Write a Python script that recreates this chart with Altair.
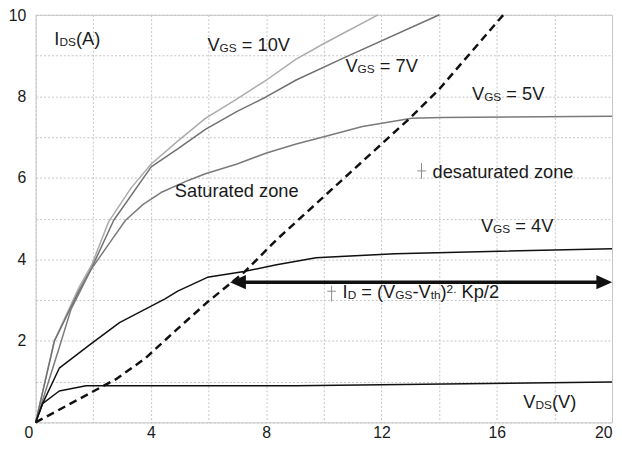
import altair as alt
import pandas as pd

# ---------------- data ----------------
vgs10_x = [0, 0.65, 1.51, 1.95, 2.53, 3.32, 4.01, 4.93, 5.89, 6.99, 8.01, 9.04, 10.07, 11.88]
vgs10_y = [0, 2.01, 3.32, 3.87, 4.92, 5.76, 6.34, 6.90, 7.46, 7.94, 8.40, 8.91, 9.32, 10.0]

vgs7_x = [0, 0.65, 1.51, 1.95, 2.71, 4.01, 4.93, 5.89, 6.99, 8.01, 9.04, 10.75, 14.01]
vgs7_y = [0, 1.99, 3.24, 3.80, 4.96, 6.27, 6.71, 7.19, 7.63, 7.99, 8.40, 8.96, 10.0]

vgs5_x = [0, 0.82, 1.23, 1.92, 2.64, 3.12, 3.73, 4.35, 5.27, 5.89, 6.99, 8.01, 9.04, 10.07, 11.34, 13.05, 14.08, 20.0]
vgs5_y = [0, 1.84, 2.78, 3.75, 4.48, 4.96, 5.35, 5.64, 5.93, 6.10, 6.34, 6.61, 6.83, 7.02, 7.26, 7.46, 7.48, 7.51]

vgs4_x = [0, 0.24, 0.82, 1.85, 2.91, 4.49, 4.93, 5.96, 7.23, 8.36, 9.73, 12.47, 20.0]
vgs4_y = [0, 0.46, 1.33, 1.89, 2.45, 3.03, 3.22, 3.56, 3.70, 3.87, 4.04, 4.14, 4.26]

vgs_low_x = [0, 0.24, 0.82, 1.75, 3.80, 9.04, 14.18, 20.0]
vgs_low_y = [0, 0.46, 0.77, 0.90, 0.90, 0.90, 0.94, 0.99]

limit_x = [0, 2.81, 3.80, 4.93, 5.96, 7.23, 8.36, 9.04, 12.98, 14.01, 16.23]
limit_y = [0, 1.07, 1.57, 2.30, 2.95, 3.68, 4.48, 4.92, 7.46, 8.18, 10.0]

arrow_x = [7.02, 19.73]
arrow_y = 3.44

x_ticks = list(range(0, 21, 2))
y_ticks = list(range(0, 11))

# annotation anchors (x, y) and text pieces: (text, kind)
labels = [
    (0.65, 9.25, [("I", "n"), ("DS", "sub"), ("(A)", "n")]),
    (5.96, 9.10, [("V", "n"), ("GS", "sub"), (" = 10V", "n")]),
    (10.75, 8.60, [("V", "n"), ("GS", "sub"), (" = 7V", "n")]),
    (15.14, 7.92, [("V", "n"), ("GS", "sub"), (" = 5V", "n")]),
    (4.83, 5.54, [("Saturated zone", "n")]),
    (13.77, 6.00, [("desaturated zone", "n")]),
    (15.45, 4.67, [("V", "n"), ("GS", "sub"), (" = 4V", "n")]),
    (10.65, 3.05, [("I", "n"), ("D", "sub"), (" = (V", "n"), ("GS", "sub"), ("-V", "n"),
                   ("th", "sub"), (")", "n"), ("2.", "sup"), (" Kp/2", "n")]),
    (16.92, 0.36, [("V", "n"), ("DS", "sub"), ("(V)", "n")]),
]
cross_x = [13.39, 10.27]
cross_y = [6.17, 3.16]

# ---------------- styling ----------------
FONT = "Liberation Sans"
MAIN, SUB = 18.5, 12
INK = "#1a1a1a"

ARIAL_W = {' ': 278, '(': 333, ')': 333, '-': 333, '.': 278, '/': 278, '=': 584,
           'A': 667, 'D': 722, 'G': 778, 'I': 278, 'K': 667, 'S': 667, 'V': 667,
           'a': 556, 'd': 556, 'e': 556, 'h': 556, 'n': 556, 'o': 556, 'p': 556,
           'r': 333, 's': 500, 't': 278, 'u': 556, 'z': 500}


def text_width(s, size):
    return sum(ARIAL_W.get(c, 556) for c in s) * size / 1000.0


X_SCALE = alt.Scale(domain=[0, 20], nice=False, zero=False)
Y_SCALE = alt.Scale(domain=[0, 10], nice=False, zero=False)

AXIS_X = alt.Axis(
    values=x_ticks,
    labelExpr="datum.value % 4 == 0 ? datum.label : ''",
    title=None, grid=True, domain=False, ticks=False, tickSize=0,
    labelPadding=2, labelFontSize=16, labelFont=FONT, labelColor=INK,
    labelAlign={"condition": {"test": "datum.value == 0 || datum.value == 20", "value": "right"},
                "value": "center"},
    labelOffset={"condition": {"test": "datum.value == 0", "value": -3}, "value": 0},
    labelOverlap=False,
    gridColor="#c4c4c4", gridDash=[2, 2], gridWidth=1,
)
AXIS_Y = alt.Axis(
    values=y_ticks,
    labelExpr="datum.value % 2 == 0 && datum.value > 0 ? datum.label : ''",
    title=None, grid=True, domain=False, ticks=False, tickSize=0,
    labelPadding=10, labelFontSize=16, labelFont=FONT, labelColor=INK,
    labelOffset={"condition": {"test": "datum.value == 10", "value": 1}, "value": 0},
    labelOverlap=False,
    gridColor="#c4c4c4", gridDash=[2, 2], gridWidth=1,
)


def X():
    return alt.X("x:Q", scale=X_SCALE, axis=AXIS_X)


def Y():
    return alt.Y("y:Q", scale=Y_SCALE, axis=AXIS_Y)


def line(xs, ys, color, width, dash=None):
    df = pd.DataFrame({"x": xs, "y": ys})
    kw = dict(color=color, strokeWidth=width, strokeJoin="round")
    if dash:
        kw["strokeDash"] = dash
    return alt.Chart(df).mark_line(**kw).encode(x=X(), y=Y())


layers = [
    line(vgs10_x, vgs10_y, "#ababab", 1.5),
    line(vgs7_x, vgs7_y, "#707070", 1.5),
    line(vgs5_x, vgs5_y, "#7a7a7a", 1.5),
    line(vgs4_x, vgs4_y, "#111111", 1.5),
    line(vgs_low_x, vgs_low_y, "#111111", 1.5),
    line(limit_x, limit_y, "#111111", 2.5, dash=[8, 5]),
]

# double headed arrow
arrow_df = pd.DataFrame({"x": [arrow_x[0]], "x2": [arrow_x[1]], "y": [arrow_y]})
layers.append(alt.Chart(arrow_df).mark_rule(color="#111111", strokeWidth=3.5)
              .encode(x=X(), x2="x2:Q", y=Y()))
heads = [("M1,-0.9L-1,0L1,0.9Z", arrow_x[0]), ("M-1,-0.9L1,0L-1,0.9Z", arrow_x[1])]
for shape, hx in heads:
    layers.append(alt.Chart(pd.DataFrame({"x": [hx], "y": [arrow_y]}))
                  .mark_point(shape=shape, size=256, filled=True, color="#111111",
                              opacity=1, strokeWidth=0)
                  .encode(x=X(), y=Y()))

# small cursor-like crosses
cross_shapes = ["M0,-1L0,1M-0.55,0L0.55,0", "M0,-1L0,1M-0.55,-0.3L0.55,-0.3"]
for cx, cy, shp in zip(cross_x, cross_y, cross_shapes):
    layers.append(alt.Chart(pd.DataFrame({"x": [cx], "y": [cy]}))
                  .mark_point(shape=shp, size=256, filled=False, color="#8a8a8a",
                              opacity=1, strokeWidth=1)
                  .encode(x=X(), y=Y()))

# annotations with sub/superscripts (leading blanks become offsets: Vega trims text)
for lx, ly, pieces in labels:
    off = 0.0
    for txt, kind in pieces:
        size = MAIN if kind == "n" else SUB
        dy = 0 if kind == "n" else (1 if kind == "sub" else -5.5)
        stripped = txt.lstrip(" ")
        off += text_width(txt[: len(txt) - len(stripped)], size)
        layers.append(
            alt.Chart(pd.DataFrame({"x": [lx], "y": [ly]}))
            .mark_text(text=stripped, align="left", baseline="alphabetic", dx=off, dy=dy,
                       fontSize=size, font=FONT, color=INK)
            .encode(x=X(), y=Y())
        )
        off += text_width(stripped, size)

chart = (
    alt.layer(*layers)
    .properties(
        width=584, height=413,
        autosize=alt.AutoSizeParams(type="none"),
        padding={"left": 28, "top": 4, "right": 2, "bottom": 20},
        background="white",
    )
    .configure_view(stroke="#c8c8c8", strokeWidth=1)
)

chart.save("out.html", embed_options={"renderer": "svg", "actions": False})
